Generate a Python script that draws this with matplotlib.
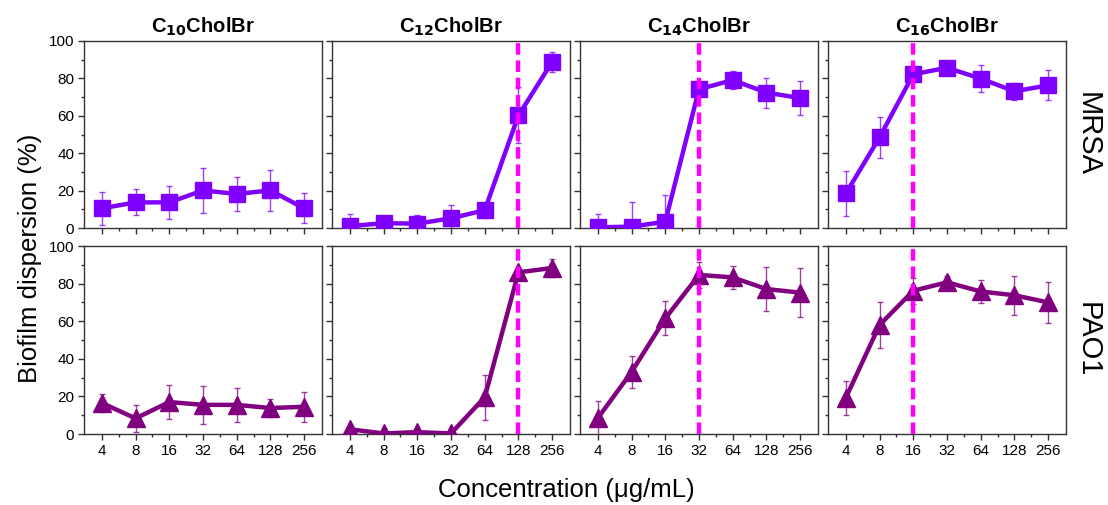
import matplotlib
matplotlib.use("Agg")
import matplotlib.pyplot as plt
from matplotlib.ticker import MultipleLocator, FixedLocator

plt.rcParams['font.family'] = ['Liberation Sans', 'DejaVu Sans']

conc_labels = ["4", "8", "16", "32", "64", "128", "256"]
titles = ["C$_{\\mathbf{10}}$CholBr", "C$_{\\mathbf{12}}$CholBr",
          "C$_{\\mathbf{14}}$CholBr", "C$_{\\mathbf{16}}$CholBr"]
rows = ["MRSA", "PAO1"]

mrsa_c10 = [10.5, 13.7, 13.7, 20.1, 18.2, 20.1, 10.5]
mrsa_c10_err = [9, 7, 9, 12, 9, 11, 8]
mrsa_c12 = [1.0, 2.6, 2.3, 5.2, 9.5, 60.2, 88.8]
mrsa_c12_err = [6.5, 3.3, 4.5, 7, 4, 15, 5.5]
mrsa_c14 = [0.4, 0.7, 3.4, 74.2, 79.1, 72.4, 69.5]
mrsa_c14_err = [7, 13, 14, 3, 5, 8, 9]
mrsa_c16 = [18.5, 48.5, 82.2, 85.7, 79.9, 73.1, 76.3]
mrsa_c16_err = [12, 11, 2, 1.5, 7, 4.7, 8]

pao1_c10 = [16.5, 8.3, 17.0, 15.5, 15.5, 13.8, 14.5]
pao1_c10_err = [5, 7, 9, 10, 9, 5, 8]
pao1_c12 = [2.5, 0.3, 1.0, 0.3, 19.5, 86.0, 88.3]
pao1_c12_err = [1, 0.5, 0.5, 0.5, 12, 2, 5]
pao1_c14 = [8.5, 33.0, 61.5, 84.6, 83.3, 77.1, 75.2]
pao1_c14_err = [9, 8.5, 9, 7, 6, 11.5, 13]
pao1_c16 = [19.3, 58.0, 76.2, 80.7, 75.8, 73.8, 70.0]
pao1_c16_err = [9, 12, 7, 3.5, 6, 10.5, 10.7]

mic_index = [None, 5, 3, 2]

mrsa_vals = [mrsa_c10, mrsa_c12, mrsa_c14, mrsa_c16]
mrsa_errs = [mrsa_c10_err, mrsa_c12_err, mrsa_c14_err, mrsa_c16_err]
pao1_vals = [pao1_c10, pao1_c12, pao1_c14, pao1_c16]
pao1_errs = [pao1_c10_err, pao1_c12_err, pao1_c14_err, pao1_c16_err]

mrsa_color = "#8000FF"
pao1_color = "#800080"
mic_color = "#FF00FF"

W, H = 1108, 505
fig = plt.figure(figsize=(W / 100, H / 100), dpi=100)

lefts = [84, 332, 580, 828]
pw = 238
row_tb = [(41, 228), (246, 434)]

x = list(range(len(conc_labels)))

for r in range(2):
    top, bot = row_tb[r]
    for c in range(4):
        ax = fig.add_axes([lefts[c] / W, 1 - bot / H, pw / W, (bot - top) / H])
        if r == 0:
            vals, errs, col, mk = mrsa_vals[c], mrsa_errs[c], mrsa_color, "s"
        else:
            vals, errs, col, mk = pao1_vals[c], pao1_errs[c], pao1_color, "^"
        if mic_index[c] is not None:
            ax.axvline(mic_index[c], color=mic_color, lw=3.2, ls=(0, (2.6, 1.3)), zorder=6)
        ax.errorbar(x, vals, yerr=errs, fmt="none", ecolor=col, elinewidth=1.0,
                    capsize=2.5, capthick=1.0, alpha=0.75, zorder=3)
        ax.plot(x, vals, color=col, lw=3.2, marker=mk, ms=11.5 if mk == "s" else 12.5,
                mfc=col, mec=col, zorder=5)
        ax.set_xlim(-0.53, 6.53)
        ax.set_ylim(0, 100)
        ax.yaxis.set_major_locator(MultipleLocator(20))
        ax.yaxis.set_minor_locator(MultipleLocator(10))
        ax.xaxis.set_major_locator(FixedLocator(x))
        ax.xaxis.set_minor_locator(FixedLocator([i + 0.5 for i in x[:-1]]))
        ax.tick_params(which="major", direction="out", length=4, width=1,
                       labelsize=11, pad=3, color="#333333")
        ax.tick_params(which="minor", direction="out", length=2.5, width=1, color="#333333")
        for s in ax.spines.values():
            s.set_linewidth(1.0)
            s.set_color("#333333")
        if r == 1:
            ax.set_xticklabels(conc_labels)
        else:
            ax.set_xticklabels([])
            ax.set_title(titles[c], fontsize=14.5, fontweight="bold", pad=6)
        if c != 0:
            ax.set_yticklabels([])
        if c == 3:
            ax.text(1.09, 0.5, rows[r], transform=ax.transAxes, rotation=-90,
                    fontsize=21, ha="center", va="center")

fig.text(30 / W, 1 - 258 / H, "Biofilm dispersion (%)", rotation=90,
         fontsize=18.5, ha="center", va="center")
fig.text(566 / W, 1 - 490 / H, "Concentration (\u03bcg/mL)", fontsize=18.5,
         ha="center", va="center")

fig.savefig("out.png", dpi=100)
